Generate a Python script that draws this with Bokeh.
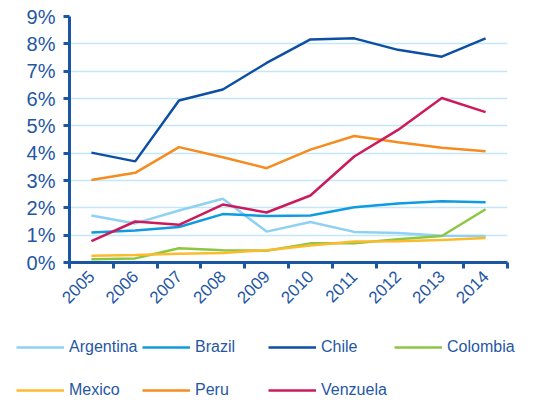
from bokeh.plotting import figure
from bokeh.models import FixedTicker, NumeralTickFormatter, Legend, LegendItem, Range1d
from bokeh.embed import file_html
from bokeh.resources import INLINE
import math

years = ["2005", "2006", "2007", "2008", "2009", "2010", "2011", "2012", "2013", "2014"]
argentina = [1.72, 1.43, 1.90, 2.33, 1.13, 1.48, 1.12, 1.08, 0.98, 0.97]
brazil = [1.10, 1.17, 1.30, 1.77, 1.70, 1.72, 2.02, 2.16, 2.24, 2.20]
chile = [4.02, 3.70, 5.93, 6.33, 7.30, 8.16, 8.20, 7.78, 7.53, 8.20]
colombia = [0.12, 0.15, 0.52, 0.45, 0.43, 0.70, 0.70, 0.85, 0.97, 1.95]
mexico = [0.25, 0.27, 0.32, 0.35, 0.45, 0.62, 0.77, 0.78, 0.82, 0.90]
peru = [3.02, 3.28, 4.22, 3.85, 3.45, 4.13, 4.63, 4.40, 4.20, 4.07]
venezuela = [0.78, 1.50, 1.38, 2.12, 1.83, 2.45, 3.88, 4.85, 6.02, 5.50]

series = [
    ("Argentina", argentina, "#8ED1F2"),
    ("Brazil", brazil, "#0E9BE0"),
    ("Chile", chile, "#0D4FA3"),
    ("Colombia", colombia, "#8DC641"),
    ("Mexico", mexico, "#FDBA2C"),
    ("Peru", peru, "#F68B1F"),
    ("Venzuela", venezuela, "#CB1B5C"),
]

TEXT = "#1F57A4"
AXIS = "#1B56A3"

n = len(years)
xs = [i + 0.5 for i in range(n)]

p = figure(width=528, height=325, output_backend="svg", toolbar_location=None,
           x_range=Range1d(0, n), y_range=Range1d(0, 0.09),
           min_border_left=69, min_border_top=16, min_border_right=21, min_border_bottom=63,
           frame_width=438, frame_height=246)
p.outline_line_color = None
p.background_fill_color = "white"

# axes
p.xaxis.ticker = FixedTicker(ticks=xs, minor_ticks=list(range(n + 1)))
p.xaxis.major_label_overrides = {x: y for x, y in zip(xs, years)}
p.xaxis.major_label_orientation = math.pi / 4
p.xaxis.major_tick_line_color = None
p.xaxis.minor_tick_line_color = AXIS
p.xaxis.minor_tick_line_width = 3
p.xaxis.minor_tick_out = 6
p.xaxis.minor_tick_in = 0
p.xaxis.axis_line_color = AXIS
p.xaxis.axis_line_width = 3
p.xaxis.major_label_text_color = TEXT
p.xaxis.major_label_text_font = "Liberation Sans"
p.xaxis.major_label_text_font_size = "17px"
p.xaxis.major_label_standoff = 5

p.yaxis.ticker = FixedTicker(ticks=[i / 100 for i in range(10)])
p.yaxis.formatter = NumeralTickFormatter(format="0%")
p.yaxis.axis_line_color = AXIS
p.yaxis.axis_line_width = 3
p.yaxis.major_tick_line_color = AXIS
p.yaxis.major_tick_line_width = 3
p.yaxis.major_tick_out = 6
p.yaxis.major_tick_in = 0
p.yaxis.minor_tick_line_color = None
p.yaxis.major_label_text_color = TEXT
p.yaxis.major_label_text_font = "Liberation Sans"
p.yaxis.major_label_text_font_size = "20px"
p.yaxis.major_label_standoff = 8

p.xgrid.grid_line_color = None
p.ygrid.grid_line_color = "#C4E7F8"
p.ygrid.grid_line_width = 1.5

for name, vals, color in series:
    p.line(xs, [v / 100 for v in vals], line_color=color, line_width=2.5)

# legend panel: a second root figure whose data lie outside its ranges, so only the legend shows
q = figure(width=528, height=79, output_backend="svg", toolbar_location=None,
           x_range=Range1d(0, n), y_range=Range1d(-2, -1),
           x_axis_location=None, y_axis_location=None,
           min_border=0, min_border_left=0, min_border_right=0,
           min_border_top=0, min_border_bottom=0)
q.outline_line_color = None
q.grid.visible = False

items = []
for name, vals, color in series:
    r = q.line(xs, vals, line_color=color, line_width=2.5)
    items.append(LegendItem(label=name, renderers=[r]))


def make_legend(its, loc):
    lg = Legend(items=its, orientation="horizontal", location=loc,
                glyph_width=48, glyph_height=20, label_standoff=5, label_width=73,
                label_height=20, spacing=0, padding=0, margin=0,
                label_text_font="Liberation Sans", label_text_font_size="16px",
                label_text_color=TEXT, border_line_color=None, background_fill_alpha=0)
    lg.item_background_fill_alpha = 0
    return lg


q.add_layout(make_legend(items[:4], (16, 47)), "center")
q.add_layout(make_legend(items[4:], (16, 4)), "center")

open("out.html", "w").write(file_html([p, q], INLINE))
